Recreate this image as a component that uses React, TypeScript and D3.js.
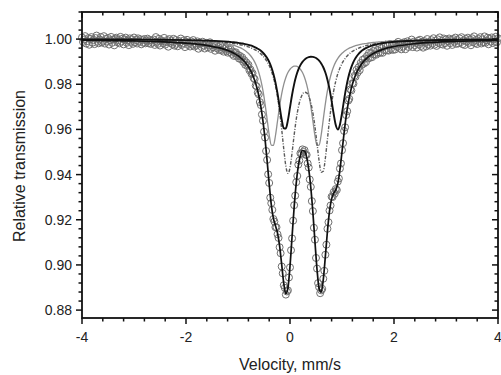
import React from 'react';
import * as d3 from 'd3';

// Measured spectrum: channels equally spaced from -4 mm/s, step 0.02 mm/s
const velocityStart = -4;
const channelStep = 0.02;
const transmission = [
  1.00074, 0.99873, 0.99983, 1.00132, 0.99802, 0.99911, 1.00040, 0.99750, 1.00009, 1.00089,
  0.99838, 0.99967, 0.99777, 1.00046, 1.00156, 0.99885, 0.99814, 0.99984, 1.00093, 0.99853,
  0.99922, 1.00131, 0.99801, 1.00010, 0.99890, 1.00049, 0.99758, 0.99947, 1.00097, 0.99836,
  0.99985, 0.99724, 1.00013, 1.00063, 0.99862, 0.99961, 0.99810, 1.00099, 0.99899, 1.00018,
  0.99767, 0.99986, 1.00065, 0.99835, 0.99944, 0.99733, 1.00032, 0.99881, 0.99991, 0.99790,
  1.00069, 0.99858, 0.99956, 0.99805, 1.00033, 0.99892, 0.99991, 0.99769, 0.99958, 0.99836,
  1.00005, 0.99814, 0.99932, 1.00021, 0.99819, 0.99958, 0.99787, 0.99935, 0.99844, 0.99982,
  0.99741, 1.00090, 0.99878, 0.99787, 1.00015, 0.99714, 0.99952, 0.99899, 0.99817, 1.00054,
  0.99752, 0.99869, 0.99957, 0.99664, 1.00002, 0.99829, 0.99907, 0.99774, 1.00012, 0.99709,
  0.99957, 0.99794, 0.99682, 0.99919, 0.99847, 1.00024, 0.99742, 0.99809, 0.99947, 0.99645,
  0.99882, 0.99967, 0.99742, 0.99837, 0.99672, 0.99897, 0.99752, 0.99957, 0.99672, 0.99797,
  0.99713, 0.99898, 0.99573, 0.99838, 0.99793, 0.99648, 0.99883, 0.99718, 0.99583, 0.99798,
  0.99834, 0.99635, 0.99716, 0.99858, 0.99569, 0.99731, 0.99642, 0.99754, 0.99485, 0.99767,
  0.99588, 0.99654, 0.99521, 0.99737, 0.99513, 0.99630, 0.99446, 0.99562, 0.99608, 0.99475,
  0.99401, 0.99553, 0.99434, 0.99554, 0.99343, 0.99450, 0.99256, 0.99380, 0.99413, 0.99233,
  0.99302, 0.99138, 0.99253, 0.99113, 0.99192, 0.98995, 0.99067, 0.98862, 0.98966, 0.98813,
  0.98864, 0.98618, 0.98654, 0.98461, 0.98488, 0.98274, 0.98227, 0.97945, 0.97905, 0.97625,
  0.97551, 0.97211, 0.97079, 0.96662, 0.96387, 0.95899, 0.95640, 0.95045, 0.94651, 0.94012,
  0.93630, 0.92980, 0.92733, 0.92438, 0.92034, 0.91921, 0.91671, 0.91669, 0.91358, 0.91196,
  0.90783, 0.90519, 0.89931, 0.89628, 0.89100, 0.88984, 0.88686, 0.88826, 0.88873, 0.89445,
  0.89891, 0.90651, 0.91174, 0.91961, 0.92645, 0.93068, 0.93663, 0.93939, 0.94441, 0.94620,
  0.94942, 0.94921, 0.95117, 0.95004, 0.95081, 0.94878, 0.94873, 0.94493, 0.94314, 0.93782,
  0.93457, 0.92825, 0.92383, 0.91643, 0.91117, 0.90309, 0.89838, 0.89194, 0.89015, 0.88749,
  0.88876, 0.88938, 0.89389, 0.89739, 0.90449, 0.90895, 0.91602, 0.91891, 0.92409, 0.92631,
  0.93024, 0.93006, 0.93227, 0.93156, 0.93361, 0.93320, 0.93694, 0.93828, 0.94265, 0.94493,
  0.95081, 0.95392, 0.95933, 0.96094, 0.96634, 0.96807, 0.97276, 0.97353, 0.97772, 0.97725,
  0.98046, 0.98028, 0.98372, 0.98332, 0.98640, 0.98517, 0.98754, 0.98623, 0.98944, 0.98859,
  0.99088, 0.98913, 0.99143, 0.98979, 0.99251, 0.99140, 0.99387, 0.99170, 0.99382, 0.99201,
  0.99468, 0.99313, 0.99568, 0.99310, 0.99512, 0.99382, 0.99631, 0.99398, 0.99605, 0.99391,
  0.99676, 0.99510, 0.99754, 0.99497, 0.99699, 0.99491, 0.99782, 0.99563, 0.99763, 0.99523,
  0.99732,
  0.99538, 0.99805, 0.99661, 0.99877, 0.99614, 0.99760, 0.99546, 0.99822, 0.99669, 0.99865,
  0.99551, 0.99788, 0.99904, 0.99650, 0.99837, 0.99753, 0.99979, 0.99645, 0.99882, 0.99728,
  0.99831, 0.99624, 0.99927, 0.99759, 0.99972, 0.99695, 0.99878, 0.99621, 0.99914, 0.99836,
  0.99679, 1.00002, 0.99755, 0.99878, 0.99711, 0.99953, 0.99806, 1.00039, 0.99752, 0.99925,
  0.99698, 0.99990, 0.99833, 1.00076, 0.99779, 0.99922, 0.99755, 1.00027, 0.99820, 0.99983,
  0.99704, 0.99906, 1.00027, 0.99819, 0.99970, 0.99741, 1.00003, 0.99884, 1.00066, 0.99787,
  0.99958, 0.99810, 1.00031, 0.99863, 1.00084, 0.99775, 0.99937, 0.99738, 1.00010, 0.99891,
  1.00062, 0.99834, 0.99985, 0.99727, 1.00038, 0.99869, 1.00120, 0.99821, 0.99961, 0.99782,
  1.00013, 0.99894, 1.00085, 0.99806, 0.99986, 0.99857, 1.00119, 0.99839, 0.99940, 1.00061,
  0.99771, 1.00012, 0.99893, 1.00074, 0.99825, 0.99986, 0.99877, 1.00107, 0.99858, 1.00039,
];

// Curve sampling: sparse wings, dense centre (-1.2 .. 2.0 step 0.04)
const curveWingLeft = [-4, -3, -2.5, -2, -1.6];
const curveDenseStart = -1.2;
const curveDenseStep = 0.04;
const curveDenseCount = 81;
const curveWingRight = [2.4, 3, 3.5, 4];

const fitCurve = [
  0.99954, 0.99919, 0.99884, 0.99822, 0.99723,
  0.99501, 0.99464, 0.99423, 0.99376, 0.99323, 0.99262, 0.99193, 0.99112, 0.99017, 0.98906,
  0.98774, 0.98614, 0.98418, 0.98177, 0.97875, 0.97491, 0.96999, 0.96367, 0.95570, 0.94611,
  0.93580, 0.92673, 0.92074, 0.91741, 0.91408, 0.90843, 0.90021, 0.89180, 0.88726, 0.88983,
  0.89941, 0.91264, 0.92565, 0.93623, 0.94381, 0.94852, 0.95067, 0.95041, 0.94773, 0.94244,
  0.93427, 0.92323, 0.91027, 0.89788, 0.88955, 0.88796, 0.89349, 0.90379, 0.91492, 0.92379,
  0.92924, 0.93177, 0.93321, 0.93614, 0.94205, 0.95011, 0.95843, 0.96574, 0.97166, 0.97632,
  0.97996, 0.98282, 0.98510, 0.98694, 0.98844, 0.98968, 0.99073, 0.99161, 0.99237, 0.99302,
  0.99358, 0.99408, 0.99452, 0.99491, 0.99525, 0.99556, 0.99584, 0.99609, 0.99632, 0.99653,
  0.99672,
  0.99798, 0.99883, 0.99918, 0.99939,
];

const componentA = [
  0.99988, 0.99979, 0.99971, 0.99956, 0.99933,
  0.99884, 0.99876, 0.99868, 0.99858, 0.99847, 0.99835, 0.99822, 0.99806, 0.99789, 0.99768,
  0.99745, 0.99718, 0.99686, 0.99648, 0.99603, 0.99548, 0.99481, 0.99397, 0.99293, 0.99160,
  0.98988, 0.98764, 0.98470, 0.98085, 0.97594, 0.97015, 0.96438, 0.96052, 0.96044, 0.96413,
  0.96974, 0.97536, 0.98008, 0.98373, 0.98646, 0.98846, 0.98991, 0.99093, 0.99161, 0.99202,
  0.99219, 0.99214, 0.99185, 0.99131, 0.99046, 0.98924, 0.98754, 0.98520, 0.98203, 0.97785,
  0.97263, 0.96684, 0.96191, 0.95995, 0.96207, 0.96716, 0.97312, 0.97853, 0.98290, 0.98627,
  0.98884, 0.99080, 0.99231, 0.99348, 0.99441, 0.99516, 0.99576, 0.99626, 0.99668, 0.99702,
  0.99732, 0.99757, 0.99779, 0.99798, 0.99814, 0.99829, 0.99842, 0.99853, 0.99863, 0.99872,
  0.99880,
  0.99931, 0.99962, 0.99974, 0.99981,
];

const componentB = [
  0.99984, 0.99971, 0.99957, 0.99932, 0.99889,
  0.99783, 0.99765, 0.99744, 0.99719, 0.99691, 0.99658, 0.99620, 0.99575, 0.99520, 0.99455,
  0.99374, 0.99275, 0.99151, 0.98992, 0.98788, 0.98522, 0.98173, 0.97716, 0.97135, 0.96448,
  0.95764, 0.95304, 0.95290, 0.95720, 0.96374, 0.97028, 0.97575, 0.97994, 0.98301, 0.98518,
  0.98665, 0.98756, 0.98800, 0.98800, 0.98756, 0.98665, 0.98518, 0.98301, 0.97994, 0.97575,
  0.97028, 0.96374, 0.95720, 0.95290, 0.95304, 0.95764, 0.96448, 0.97135, 0.97716, 0.98173,
  0.98522, 0.98788, 0.98992, 0.99151, 0.99275, 0.99374, 0.99455, 0.99520, 0.99575, 0.99620,
  0.99658, 0.99691, 0.99719, 0.99744, 0.99765, 0.99784, 0.99800, 0.99815, 0.99828, 0.99839,
  0.99850, 0.99859, 0.99868, 0.99875, 0.99882, 0.99889, 0.99895, 0.99900, 0.99905, 0.99910,
  0.99914,
  0.99944, 0.99966, 0.99976, 0.99982,
];

const componentC = [
  0.99982, 0.99969, 0.99956, 0.99935, 0.99902,
  0.99834, 0.99823, 0.99812, 0.99799, 0.99785, 0.99769, 0.99751, 0.99731, 0.99709, 0.99683,
  0.99654, 0.99621, 0.99582, 0.99537, 0.99484, 0.99421, 0.99345, 0.99254, 0.99142, 0.99003,
  0.98828, 0.98604, 0.98314, 0.97936, 0.97440, 0.96800, 0.96008, 0.95135, 0.94382, 0.94052,
  0.94302, 0.94972, 0.95757, 0.96450, 0.96978, 0.97341, 0.97558, 0.97647, 0.97618, 0.97466,
  0.97179, 0.96736, 0.96122, 0.95367, 0.94604, 0.94107, 0.94147, 0.94725, 0.95573, 0.96421,
  0.97140, 0.97705, 0.98138, 0.98469, 0.98723, 0.98920, 0.99076, 0.99201, 0.99302, 0.99385,
  0.99454, 0.99511, 0.99560, 0.99602, 0.99638, 0.99669, 0.99696, 0.99720, 0.99741, 0.99760,
  0.99777, 0.99792, 0.99805, 0.99818, 0.99829, 0.99839, 0.99848, 0.99856, 0.99864, 0.99871,
  0.99878,
  0.99922, 0.99954, 0.99968, 0.99976,
];

const xMajorTicks = [-4, -2, 0, 2, 4];
const xTickLabels = ['-4', '-2', '0', '2', '4'];
const yMajorTicks = [0.88, 0.90, 0.92, 0.94, 0.96, 0.98, 1.00];
const yTickLabels = ['0.88', '0.90', '0.92', '0.94', '0.96', '0.98', '1.00'];
const xLabel = 'Velocity, mm/s';
const yLabel = 'Relative transmission';

const FONT = '"Liberation Sans", Arial, Helvetica, sans-serif';

export default function App() {
  const left = 82, right = 498, top = 12, bottom = 318;
  const x = d3.scaleLinear().domain([-4, 4]).range([left, right]);
  const y = d3.scaleLinear().domain([0.8765, 1.012]).range([bottom, top]);

  const velocity = transmission.map((_, i) => velocityStart + i * channelStep);
  const dense = d3.range(curveDenseCount).map(i => curveDenseStart + i * curveDenseStep);
  const curveV = [...curveWingLeft, ...dense, ...curveWingRight];

  const line = d3
    .line<[number, number]>()
    .x(d => x(d[0]))
    .y(d => y(d[1]))
    .curve(d3.curveMonotoneX);
  const path = (vals: number[]) => line(curveV.map((v, i) => [v, vals[i]] as [number, number])) || '';

  const xMinor = d3.range(21).map(i => -4 + 0.4 * i).filter(v => !xMajorTicks.some(m => Math.abs(m - v) < 1e-6));
  const yMinor = d3.range(34).map(i => 0.88 + 0.004 * i).filter(v => !yMajorTicks.some(m => Math.abs(m - v) < 1e-6));

  const tickStroke = '#111';
  return (
    <svg width={501} height={375} style={{ position: 'absolute', left: 0, top: 0, background: '#fff' }}>
      <rect x={0} y={0} width={501} height={375} fill="#fff" />
      {/* data points */}
      <g fill="none" stroke="#6f6f6f" strokeWidth={1}>
        {transmission.map((t, i) => (
          <circle key={i} cx={x(velocity[i])} cy={y(t)} r={3.5} />
        ))}
      </g>
      {/* sub-spectra */}
      <path d={path(componentB)} fill="none" stroke="#8f8f8f" strokeWidth={1.3} />
      <path d={path(componentC)} fill="none" stroke="#5a5a5a" strokeWidth={1.4} strokeDasharray="3.5,1.5,1,1.5" />
      <path d={path(componentA)} fill="none" stroke="#111" strokeWidth={1.9} />
      {/* fit */}
      <path d={path(fitCurve)} fill="none" stroke="#111" strokeWidth={1.7} />

      {/* frame */}
      <rect x={left} y={top} width={right - left} height={bottom - top} fill="none" stroke="#111" strokeWidth={1.8} />

      {/* ticks: bottom/left outward, top/right inward */}
      <g stroke={tickStroke} strokeWidth={1.5}>
        {xMajorTicks.map(v => (
          <g key={'xM' + v}>
            <line x1={x(v)} x2={x(v)} y1={bottom} y2={bottom + 6} />
            <line x1={x(v)} x2={x(v)} y1={top} y2={top + 6} />
          </g>
        ))}
        {xMinor.map(v => (
          <g key={'xm' + v}>
            <line x1={x(v)} x2={x(v)} y1={bottom} y2={bottom + 3.5} />
            <line x1={x(v)} x2={x(v)} y1={top} y2={top + 3.5} />
          </g>
        ))}
        {yMajorTicks.map(v => (
          <g key={'yM' + v}>
            <line x1={left} x2={left - 6} y1={y(v)} y2={y(v)} />
            <line x1={right} x2={right - 6} y1={y(v)} y2={y(v)} />
          </g>
        ))}
        {yMinor.map(v => (
          <g key={'ym' + v}>
            <line x1={left} x2={left - 3.5} y1={y(v)} y2={y(v)} />
            <line x1={right} x2={right - 3.5} y1={y(v)} y2={y(v)} />
          </g>
        ))}
      </g>

      {/* tick labels */}
      <g fontFamily={FONT} fontSize={14} fill="#222">
        {xMajorTicks.map((v, i) => (
          <text key={'xl' + v} x={x(v)} y={342} textAnchor="middle">{xTickLabels[i]}</text>
        ))}
        {yMajorTicks.map((v, i) => (
          <text key={'yl' + v} x={72} y={y(v) + 5} textAnchor="end">{yTickLabels[i]}</text>
        ))}
      </g>

      {/* axis titles */}
      <text x={290} y={370} textAnchor="middle" fontFamily={FONT} fontSize={16} fill="#222">{xLabel}</text>
      <text transform="translate(25,166) rotate(-90)" textAnchor="middle" fontFamily={FONT} fontSize={16} fill="#222">{yLabel}</text>
    </svg>
  );
}
